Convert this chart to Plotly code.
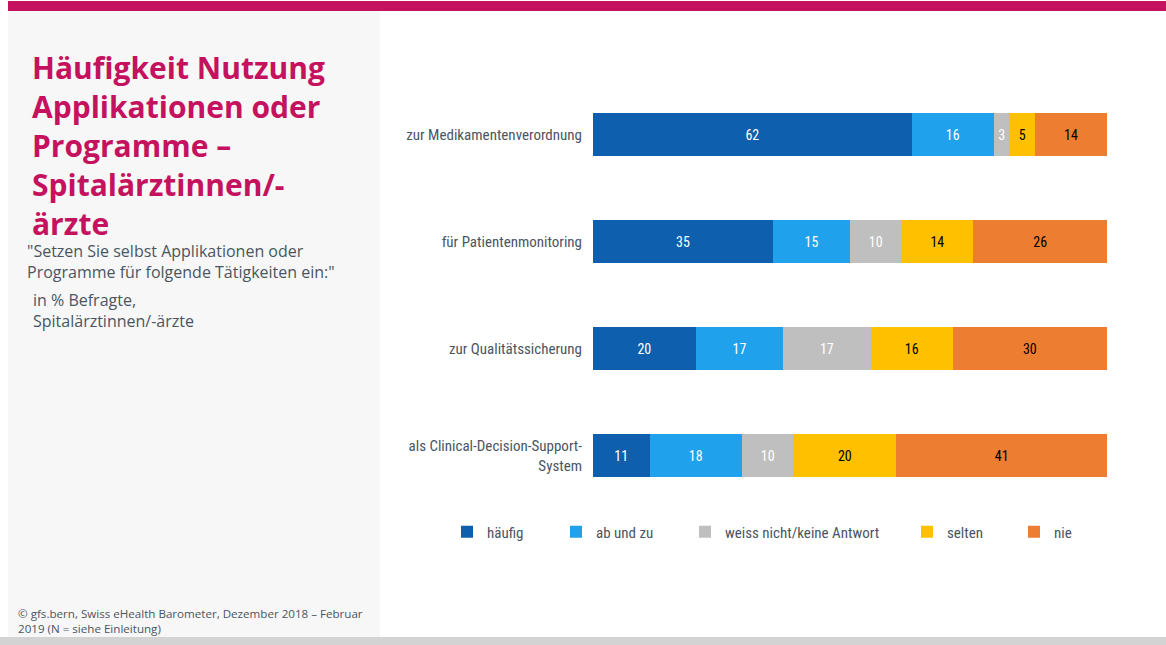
import plotly.graph_objects as go

# Daten (in % Befragte)
categories = ["zur Medikamentenverordnung", "für Patientenmonitoring",
              "zur Qualitätssicherung", "als Clinical-Decision-Support-<br>System"]
series_names = ["häufig", "ab und zu", "weiss nicht/keine Antwort", "selten", "nie"]
haeufig = [62, 35, 20, 11]
ab_und_zu = [16, 15, 17, 18]
weiss_nicht = [3, 10, 17, 10]
selten = [5, 14, 16, 20]
nie = [14, 26, 30, 41]

colors = ["#0E5FAD", "#1FA2EB", "#BFBFBF", "#FFC000", "#ED7D31"]
text_colors = ["white", "white", "white", "black", "black"]

W, H = 1166, 645
L, R, T, B = 593, 59, 81, 136
pw, ph = W - L - R, H - T - B

# pixel -> paper
def px(x):
    return (x - L) / pw

def py(y):
    return (H - B - y) / ph

FONT = "Liberation Sans Narrow, Roboto Condensed, Roboto, sans-serif"
GREY_TXT = "#4A5562"

# one legend per entry so the entries can sit where the original has them
legend_x = [447, 556, 685, 907, 1014]
legend_ids = ["legend", "legend2", "legend3", "legend4", "legend5"]

fig = go.Figure()
for name, vals, c, tc, lg in zip(series_names, [haeufig, ab_und_zu, weiss_nicht, selten, nie],
                                 colors, text_colors, legend_ids):
    fig.add_trace(go.Bar(
        y=categories, x=vals, name=name, orientation="h",
        marker=dict(color=c, line=dict(width=0)),
        text=vals, textposition="inside", insidetextanchor="middle",
        textfont=dict(color=tc, size=14, family=FONT),
        hoverinfo="x+name", legend=lg, showlegend=True,
    ))

legends = {}
for lg, x in zip(legend_ids, legend_x):
    legends[lg] = dict(orientation="h", x=px(x), y=py(532), xanchor="left", yanchor="middle",
                       font=dict(size=15, color=GREY_TXT, family=FONT),
                       bgcolor="rgba(0,0,0,0)")

fig.update_layout(
    width=W, height=H,
    barmode="stack", bargap=0.6,
    showlegend=True,
    margin=dict(l=L, r=R, t=T, b=B),
    paper_bgcolor="white", plot_bgcolor="white",
    font=dict(family=FONT, color=GREY_TXT),
    uniformtext=dict(minsize=12, mode="show"),
    **legends,
)
fig.update_xaxes(range=[0, 100], visible=False, fixedrange=True)
fig.update_yaxes(autorange="reversed", showgrid=False, showline=False, ticks="",
                 ticklabelstandoff=10, tickfont=dict(size=15, color=GREY_TXT, family=FONT))

# Hintergrund: linkes Panel, Balken oben und unten
fig.add_shape(type="rect", xref="paper", yref="paper", x0=px(8), x1=px(380), y0=py(637), y1=py(11),
              fillcolor="#F7F7F7", line=dict(width=0), layer="below")
fig.add_shape(type="rect", xref="paper", yref="paper", x0=px(8), x1=px(W), y0=py(11), y1=py(1),
              fillcolor="#C5125E", line=dict(width=0), layer="below")
fig.add_shape(type="rect", xref="paper", yref="paper", x0=px(0), x1=px(W), y0=py(645), y1=py(637),
              fillcolor="#D3D3D3", line=dict(width=0), layer="below")

title = "Häufigkeit Nutzung<br>Applikationen oder<br>Programme –<br>Spitalärztinnen/-<br>ärzte"
fig.add_annotation(text=f"<b>{title}</b>", xref="paper", yref="paper", x=px(30), y=py(145),
                   xanchor="left", yanchor="middle", align="left", showarrow=False,
                   font=dict(family="Open Sans, sans-serif", size=30, color="#C5125E"))

sub_blocks = [('"Setzen Sie selbst Applikationen oder<br>Programme für folgende Tätigkeiten ein:"', 25, 261),
              ("in % Befragte,<br>Spitalärztinnen/-ärzte", 31, 310)]
for txt, x, y in sub_blocks:
    fig.add_annotation(text=txt, xref="paper", yref="paper", x=px(x), y=py(y),
                       xanchor="left", yanchor="middle", align="left", showarrow=False,
                       font=dict(family="Open Sans, sans-serif", size=16, color=GREY_TXT))

fig.add_annotation(text="© gfs.bern, Swiss eHealth Barometer, Dezember 2018 – Februar<br>2019 (N = siehe Einleitung)",
                   xref="paper", yref="paper", x=px(16), y=py(620.5),
                   xanchor="left", yanchor="middle", align="left", showarrow=False,
                   font=dict(family="Open Sans, sans-serif", size=11.6, color=GREY_TXT))

# the page's default body margin would shift the figure by 8px
fig.write_html("out.html", config={"displayModeBar": False},
               post_script="document.body.style.margin='0';")
